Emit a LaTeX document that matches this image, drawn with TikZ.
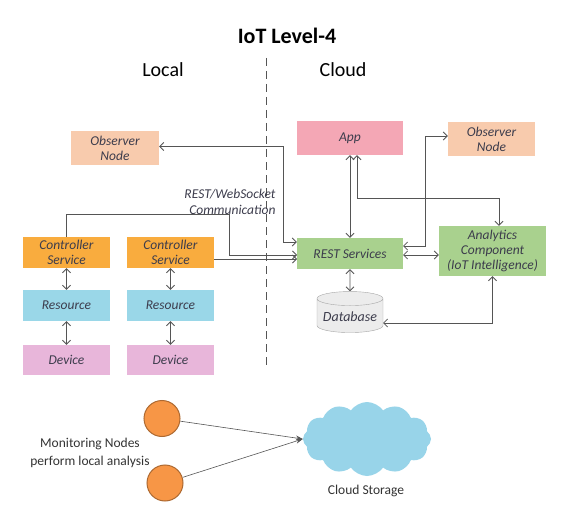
\documentclass[tikz,border=0pt]{standalone}
\usepackage{fontspec}
\setmainfont{Carlito}
\usetikzlibrary{arrows.meta,shapes.geometric,shapes.symbols,calc}

\definecolor{peach}{HTML}{F8CBAD}
\definecolor{apppink}{HTML}{F4A7B5}
\definecolor{restgreen}{HTML}{A9D18E}
\definecolor{ctrlorange}{HTML}{F9AC3E}
\definecolor{resblue}{HTML}{9AD7E8}
\definecolor{devpink}{HTML}{E8B6DA}
\definecolor{lineg}{HTML}{555555}
\definecolor{txtg}{HTML}{3C3C4C}
\definecolor{monorange}{HTML}{F79646}
\definecolor{cloudblue}{HTML}{98D4E9}

\begin{document}
\begin{tikzpicture}[
x=1pt,y=-1pt,
box/.style = {minimum width=87pt,minimum height=31pt,inner sep=1pt,align=center,
  text=txtg,font=\fontsize{13.5}{15}\selectfont\itshape},
link/.style = {lineg,line width=0.8pt,{Straight Barb[length=4pt,width=8pt]}-{Straight Barb[length=4pt,width=8pt]}},
tolink/.style = {lineg,line width=0.8pt,-{Straight Barb[length=4pt,width=8pt]}},
feed/.style = {lineg,line width=0.6pt,-{Stealth[length=7pt,width=5pt]}},
mon/.style = {circle,draw=monorange!70!black,line width=1pt,fill=monorange,minimum size=36pt,inner sep=0pt}
]
  \useasboundingbox (0,0) rectangle (563,511);

  % headings
  \node (title) at (287,36) {\fontsize{22}{24}\selectfont\bfseries IoT Level-4};
  \node (local) at (163,70) {\fontsize{20}{22}\selectfont Local};
  \node (cloud) at (343,70) {\fontsize{20}{22}\selectfont Cloud};
  \coordinate (divtop) at (266,58);
  \coordinate (divbot) at (266,369);
  \draw[lineg,line width=0.8pt,dash pattern=on 8pt off 5pt] (divtop) -- (divbot);

  % cloud side
  \node[box,fill=peach,minimum width=88pt,minimum height=34pt] (obsL) at (115,148) {Observer\\Node};
  \node[box,fill=apppink,minimum width=106pt,minimum height=34pt] (app) at (350,138) {App};
  \node[box,fill=peach,minimum width=87pt,minimum height=34pt] (obsR) at (491.5,139) {Observer\\Node};
  \node[box,fill=restgreen,minimum width=106pt] (rest) at (350,253.5) {REST Services};
  \node[box,fill=restgreen,minimum width=107pt,minimum height=50pt] (ana) at (492.5,251) {Analytics\\Component\\(IoT Intelligence)};
  \node[box,cylinder,shape border rotate=90,aspect=0.25,draw=gray!70,fill=gray!15,
    minimum width=66pt,minimum height=41pt,font=\fontsize{14}{16}\selectfont\itshape,text depth=-5pt] (db) at (350,316.5) {Database};
  \node[text=txtg,align=right,font=\fontsize{13.5}{16}\selectfont\itshape] (comm) at (230,202) {REST/WebSocket\\Communication};

  % local side
  \node[box,fill=ctrlorange] (ctrl1) at (66.5,252.5) {Controller\\Service};
  \node[box,fill=ctrlorange] (ctrl2) at (170.5,252.5) {Controller\\Service};
  \node[box,fill=resblue] (res1) at (66.5,305.5) {Resource};
  \node[box,fill=resblue] (res2) at (170.5,305.5) {Resource};
  \node[box,fill=devpink,minimum height=30pt] (dev1) at (66.5,360) {Device};
  \node[box,fill=devpink,minimum height=30pt] (dev2) at (170.5,360) {Device};

  % monitoring
  \node[mon] (mon1) at (162,418.5) {};
  \node[mon] (mon2) at (165,483) {};
  \node[cloud,cloud puffs=12,cloud puff arc=110,aspect=1.7,fill=cloudblue,
    minimum width=128pt,minimum height=74pt] (store) at (367,439) {};
  \node[font=\fontsize{13.5}{18}\selectfont,text=black!80,align=center] (monlbl) at (90,453) {Monitoring Nodes\\perform local analysis};
  \node[font=\fontsize{13.5}{15}\selectfont,text=black!80] (storelbl) at (366,491) {Cloud Storage};

  % junctions
  \coordinate (jL) at (283,242);
  \coordinate (jC) at (229,214);
  \coordinate (jA) at (499,198);
  \coordinate (jR) at (425,136);
  \coordinate (rC2) at (297,259);
  \coordinate (rC1) at (297,255);
  \coordinate (rE1) at (403,246);
  \coordinate (rE2) at (403,255);
  \coordinate (dbE) at (383,323);

  \draw[link] (obsL.east |- 0,146.5) -| (jL) -- (jL -| rest.west);
  \draw[tolink] (ctrl1.north) |- (jC) |- (rC1);
  \draw[tolink] (ctrl2.east |- rC2) -- (rC2);
  \draw[link] (app.south) -- (rest.north);
  \draw[link] ($(app.south)+(7,0)$) |- (jA) -- (jA |- ana.north);
  \draw[link] (jR -| obsR.west) -- (jR) |- (rE1);
  \draw[link] (rE2) -- (rE2 -| ana.west);
  \draw[link] (rest.south) -- (db.north);
  \draw[link] (dbE) -| (ana.south);

  \draw[link] (ctrl1.south) -- (res1.north);
  \draw[link] (res1.south) -- (dev1.north);
  \draw[link] (ctrl2.south) -- (res2.north);
  \draw[link] (res2.south) -- (dev2.north);

  \draw[feed] (mon1) -- (store.west);
  \draw[feed] (mon2) -- (store.west);
\end{tikzpicture}
\end{document}
